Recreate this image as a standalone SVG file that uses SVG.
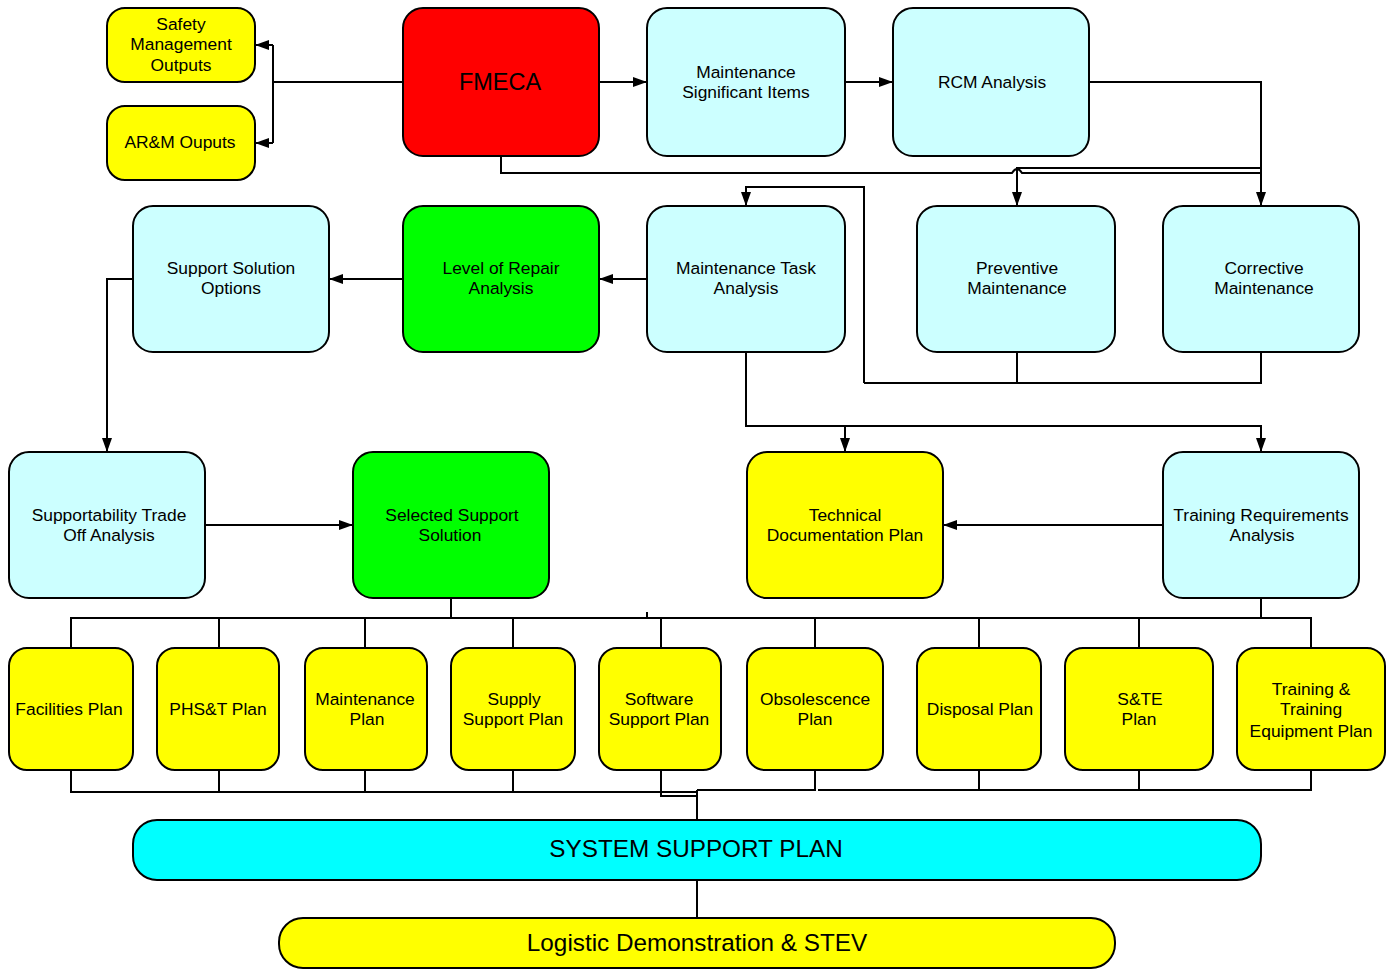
<svg xmlns="http://www.w3.org/2000/svg" width="1391" height="969" viewBox="0 0 1391 969">
<style>
.n{stroke:#000;stroke-width:2}
.y{fill:#FFFF00}.c{fill:#CCFFFF}.g{fill:#00FF00}.r{fill:#FF0000}.a{fill:#00FFFF}
text{font-family:"Liberation Sans",Arial,sans-serif;font-size:17.4px;text-anchor:middle;fill:#000}
.big{font-size:24.3px}
.fm{font-size:23.5px}
#connectors path{fill:none;stroke:#000;stroke-width:2}
</style>
<defs>
<marker id="ah" markerUnits="userSpaceOnUse" markerWidth="14" markerHeight="10" refX="13" refY="5" orient="auto">
<path d="M0,0 L14,5 L0,10 Z" fill="#000"/>
</marker>
</defs>
<rect width="1391" height="969" fill="#fff"/>
<g id="connectors">
<path d="M403,82 H273 M273,45 V143" />
<path d="M273,45 H256" marker-end="url(#ah)"/>
<path d="M273,143 H256" marker-end="url(#ah)"/>
<path d="M599,82 H646" marker-end="url(#ah)"/>
<path d="M845,82 H892" marker-end="url(#ah)"/>
<path d="M1089,82 H1261 V205" marker-end="url(#ah)"/>
<path d="M1261,168 H1017 V205" marker-end="url(#ah)"/>
<path d="M501,156 V173 H1012 Q1017,165 1022,173 H1261"/>
<path d="M1017,352 V383 H1261 V352 M864,383 V187 H746 V205" marker-end="url(#ah)"/>
<path d="M864,383 H1017"/>
<path d="M647,279 H600" marker-end="url(#ah)"/>
<path d="M403,279 H330" marker-end="url(#ah)"/>
<path d="M133,279 H107 V451" marker-end="url(#ah)"/>
<path d="M205,525 H352" marker-end="url(#ah)"/>
<path d="M746,352 V426 H1261 V451" marker-end="url(#ah)"/>
<path d="M845,426 V451" marker-end="url(#ah)"/>
<path d="M1163,525 H944" marker-end="url(#ah)"/>
<path d="M451,598 V618 M1261,598 V618 M71,648 V618 H1311 V648 M219,618 V648 M365,618 V648 M513,618 V648 M661,618 V648 M815,618 V648 M979,618 V648 M1139,618 V648 M647,612 V618"/>
<path d="M71,770 V792 H697 M219,770 V792 M365,770 V792 M513,770 V792 M661,770 V796 H697 M697,790 H815 V770 M818,790 H1311 V770 M979,770 V790 M1139,770 V790 M697,790 V820"/>
<path d="M697,880 V918"/>
</g>
<g id="n-safety"><rect class="n y" x="107" y="8" width="148" height="74" rx="18"/><text x="181" y="30">Safety</text><text x="181" y="50">Management</text><text x="181" y="71">Outputs</text></g>
<g id="n-arm"><rect class="n y" x="107" y="106" width="148" height="74" rx="18"/><text x="180" y="148">AR&amp;M Ouputs</text></g>
<g id="n-fmeca"><rect class="n r" x="403" y="8" width="196" height="148" rx="20"/><text class="fm" x="500" y="90">FMECA</text></g>
<g id="n-msi"><rect class="n c" x="647" y="8" width="198" height="148" rx="20"/><text x="746" y="78">Maintenance</text><text x="746" y="98">Significant Items</text></g>
<g id="n-rcm"><rect class="n c" x="893" y="8" width="196" height="148" rx="20"/><text x="992" y="88">RCM Analysis</text></g>
<g id="n-sso"><rect class="n c" x="133" y="206" width="196" height="146" rx="20"/><text x="231" y="274">Support Solution</text><text x="231" y="294">Options</text></g>
<g id="n-lora"><rect class="n g" x="403" y="206" width="196" height="146" rx="20"/><text x="501" y="274">Level of Repair</text><text x="501" y="294">Analysis</text></g>
<g id="n-mta"><rect class="n c" x="647" y="206" width="198" height="146" rx="20"/><text x="746" y="274">Maintenance Task</text><text x="746" y="294">Analysis</text></g>
<g id="n-pm"><rect class="n c" x="917" y="206" width="198" height="146" rx="20"/><text x="1017" y="274">Preventive</text><text x="1017" y="294">Maintenance</text></g>
<g id="n-cm"><rect class="n c" x="1163" y="206" width="196" height="146" rx="20"/><text x="1264" y="274">Corrective</text><text x="1264" y="294">Maintenance</text></g>
<g id="n-stoa"><rect class="n c" x="9" y="452" width="196" height="146" rx="20"/><text x="109" y="521">Supportability Trade</text><text x="109" y="541">Off Analysis</text></g>
<g id="n-sss"><rect class="n g" x="353" y="452" width="196" height="146" rx="20"/><text x="452" y="521">Selected Support</text><text x="450" y="541">Solution</text></g>
<g id="n-tdp"><rect class="n y" x="747" y="452" width="196" height="146" rx="20"/><text x="845" y="521">Technical</text><text x="845" y="541">Documentation Plan</text></g>
<g id="n-tra"><rect class="n c" x="1163" y="452" width="196" height="146" rx="20"/><text x="1261" y="521">Training Requirements</text><text x="1262" y="541">Analysis</text></g>
<g id="n-fac"><rect class="n y" x="9" y="648" width="124" height="122" rx="18"/><text x="69" y="715">Facilities Plan</text></g>
<g id="n-phst"><rect class="n y" x="157" y="648" width="122" height="122" rx="18"/><text x="218" y="715">PHS&amp;T Plan</text></g>
<g id="n-mp"><rect class="n y" x="305" y="648" width="122" height="122" rx="18"/><text x="365" y="705">Maintenance</text><text x="367" y="725">Plan</text></g>
<g id="n-ssp"><rect class="n y" x="451" y="648" width="124" height="122" rx="18"/><text x="514" y="705">Supply</text><text x="513" y="725">Support Plan</text></g>
<g id="n-swp"><rect class="n y" x="599" y="648" width="122" height="122" rx="18"/><text x="659" y="705">Software</text><text x="659" y="725">Support Plan</text></g>
<g id="n-obs"><rect class="n y" x="747" y="648" width="136" height="122" rx="18"/><text x="815" y="705">Obsolescence</text><text x="815" y="725">Plan</text></g>
<g id="n-disp"><rect class="n y" x="917" y="648" width="124" height="122" rx="18"/><text x="980" y="715">Disposal Plan</text></g>
<g id="n-ste"><rect class="n y" x="1065" y="648" width="148" height="122" rx="18"/><text x="1140" y="705">S&amp;TE</text><text x="1139" y="725">Plan</text></g>
<g id="n-tte"><rect class="n y" x="1237" y="648" width="148" height="122" rx="18"/><text x="1311" y="695">Training &amp;</text><text x="1311" y="715">Training</text><text x="1311" y="737">Equipment Plan</text></g>
<g id="n-sysp"><rect class="n a" x="133" y="820" width="1128" height="60" rx="24"/><text class="big" x="696" y="857">SYSTEM SUPPORT PLAN</text></g>
<g id="n-lds"><rect class="n y" x="279" y="918" width="836" height="50" rx="24"/><text class="big" x="697" y="951">Logistic Demonstration &amp; STEV</text></g>
</svg>
